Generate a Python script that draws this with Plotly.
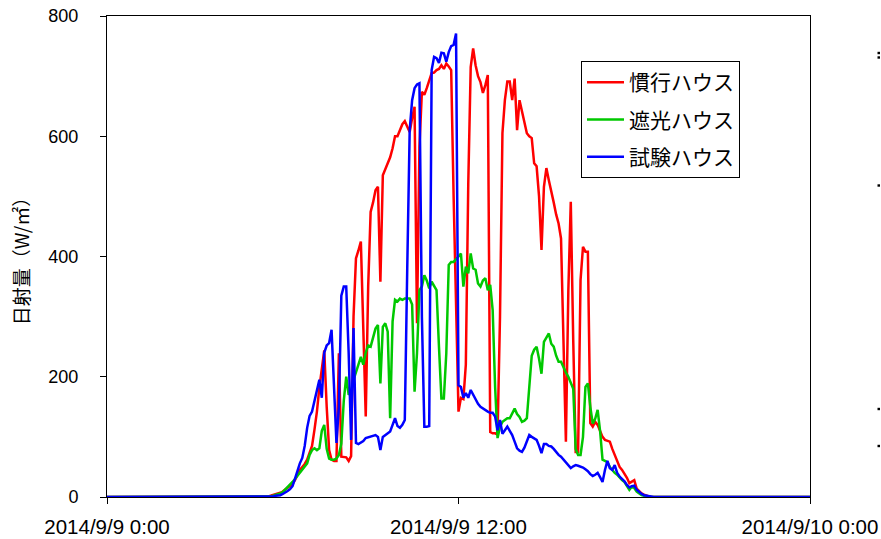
import pandas as pd
import plotly.graph_objects as go

# 5-minute samples, 2014/9/9 0:00 .. 2014/9/10 0:00
times = pd.date_range("2014-09-09 00:00", "2014-09-10 00:00", freq="5min")

night_am = [0] * 64
night_pm = [0] * 65

kanko_day = [
    0, 1, 1, 2, 3, 4, 5, 7, 9, 12,
    15, 18, 22, 28, 38, 45, 50, 55, 62, 72,
    85, 112, 142, 182, 210, 244, 150, 78, 62, 60,
    60, 239, 67, 67, 66, 60, 68, 300, 397, 410,
    425, 280, 134, 350, 474, 490, 510, 516, 358, 535,
    545, 555, 565, 580, 600, 600, 610, 620, 625, 615,
    607, 630, 649, 289, 583, 674, 669, 680, 694, 705,
    706, 710, 712, 718, 712, 721, 716, 710, 500, 330,
    142, 165, 163, 220, 520, 715, 746, 718, 700, 690,
    672, 685, 702, 108, 106, 106, 104, 300, 605, 660,
    691, 691, 660, 696, 610, 660, 640, 620, 605, 600,
    597, 555, 550, 500, 411, 516, 547, 527, 510, 490,
    470, 455, 430, 283, 92, 344, 491, 261, 75, 75,
    361, 416, 408, 408, 123, 117, 125, 120, 111, 100,
    95, 93, 92, 80, 70, 60, 50, 45, 39, 32,
    23, 26, 28, 14, 10, 6, 4, 2, 1, 0,
]

shako_day = [
    0, 0, 1, 1, 2, 3, 4, 6, 8, 12,
    16, 21, 25, 30, 35, 40, 45, 50, 56, 70,
    78, 81, 78, 81, 110, 120, 80, 64, 62, 62,
    64, 70, 89, 160, 200, 170, 175, 195, 206, 220,
    233, 220, 240, 252, 250, 265, 280, 286, 189, 283,
    289, 275, 131, 292, 328, 325, 330, 328, 330, 330,
    330, 320, 175, 239, 344, 350, 369, 360, 347, 358,
    350, 344, 250, 164, 164, 239, 386, 391, 391, 395,
    400, 405, 350, 383, 372, 405, 380, 378, 355, 350,
    360, 364, 344, 353, 311, 183, 98, 117, 125, 128,
    131, 131, 140, 147, 138, 133, 125, 127, 131, 190,
    235, 245, 250, 230, 205, 258, 265, 272, 255, 250,
    235, 225, 225, 215, 207, 200, 190, 180, 80, 70,
    70, 100, 183, 189, 150, 122, 130, 145, 110, 62,
    60, 58, 50, 45, 40, 37, 32, 28, 25, 18,
    12, 17, 15, 9, 6, 3, 2, 1, 0, 0,
]

shiken_day = [
    0, 0, 0, 1, 1, 2, 2, 3, 5, 7,
    10, 13, 18, 30, 45, 56, 65, 85, 115, 135,
    142, 160, 175, 195, 165, 240, 252, 256, 278, 180,
    90, 150, 335, 350, 350, 240, 95, 281, 90, 88,
    90, 93, 98, 99, 100, 101, 103, 100, 78, 100,
    103, 106, 109, 120, 131, 118, 115, 120, 128, 380,
    610, 660, 680, 686, 688, 300, 117, 117, 118, 710,
    732, 730, 722, 739, 738, 724, 740, 750, 752, 771,
    186, 183, 165, 173, 165, 178, 170, 161, 155, 150,
    147, 144, 142, 140, 140, 134, 111, 128, 105, 111,
    117, 110, 103, 92, 81, 77, 75, 82, 92, 103,
    100, 97, 95, 85, 73, 88, 88, 85, 84, 80,
    74, 70, 67, 62, 57, 52, 48, 51, 53, 52,
    51, 49, 46, 43, 38, 35, 37, 40, 33, 25,
    45, 60, 48, 45, 53, 40, 34, 30, 26, 20,
    16, 18, 19, 12, 8, 5, 3, 2, 1, 0,
]

kanko = night_am + kanko_day + night_pm
shako = night_am + shako_day + night_pm
shiken = night_am + shiken_day + night_pm

series_names = ["慣行ハウス", "遮光ハウス", "試験ハウス"]
series_colors = ["#FF0000", "#00C800", "#0000FF"]
series_values = [kanko, shako, shiken]

tick_vals = ["2014-09-09 00:00", "2014-09-09 12:00", "2014-09-10 00:00"]
tick_text = ["2014/9/9 0:00", "2014/9/9 12:00", "2014/9/10 0:00"]

num_font = "Liberation Sans, Arial, sans-serif"
jp_font = "Noto Sans CJK JP, sans-serif"

PW, PH = 703, 481

fig = go.Figure()
for i, (name, color, vals) in enumerate(zip(series_names, series_colors, series_values)):
    fig.add_trace(go.Scatter(
        x=times, y=vals, mode="lines", name=name,
        line=dict(color=color, width=2.5),
        legendgroup=f"g{i}",
    ))

fig.update_xaxes(
    type="date",
    range=[tick_vals[0], tick_vals[-1]],
    tickvals=tick_vals, ticktext=tick_text,
    ticks="outside", ticklen=6, tickcolor="black", tickwidth=1,
    showline=True, linecolor="black", linewidth=1, mirror=True,
    showgrid=False, zeroline=False, automargin=False,
    tickfont=dict(family=num_font, size=20.5, color="black"),
    ticklabelstandoff=5,
)
fig.update_yaxes(
    range=[0, 800], dtick=200,
    ticks="outside", ticklen=6, tickcolor="black", tickwidth=1,
    showline=True, linecolor="black", linewidth=1, mirror=True,
    showgrid=False, zeroline=False, automargin=False,
    tickfont=dict(family=num_font, size=18, color="black"),
    ticklabelstandoff=18,
    title=dict(text="日射量（W/㎡）", font=dict(family=jp_font, size=19, color="black"), standoff=13),
)

# small marks at the right edge of the picture
shapes = []
for yc in [53, 57.5, 185.5, 409, 446]:
    shapes.append(dict(
        type="rect", xref="paper", yref="paper",
        x0=(877.5 - 107) / PW, x1=(880 - 107) / PW,
        y0=(497 - yc - 1.2) / PH, y1=(497 - yc + 1.2) / PH,
        fillcolor="black", line=dict(width=0),
    ))

fig.update_layout(
    width=881, height=539,
    margin=dict(l=107, r=71, t=16, b=42, autoexpand=False),
    plot_bgcolor="white", paper_bgcolor="white",
    showlegend=True,
    legend=dict(
        x=(581 - 107) / PW, y=(497 - 61) / PH,
        xanchor="left", yanchor="top",
        bgcolor="white", bordercolor="black", borderwidth=1,
        font=dict(family=jp_font, size=21, color="black"),
        tracegroupgap=7, itemwidth=37,
    ),
    shapes=shapes,
)

fig.write_html(
    "out.html",
    config={"displayModeBar": False},
    post_script="document.body.style.margin='0';document.body.style.overflow='hidden';",
)
